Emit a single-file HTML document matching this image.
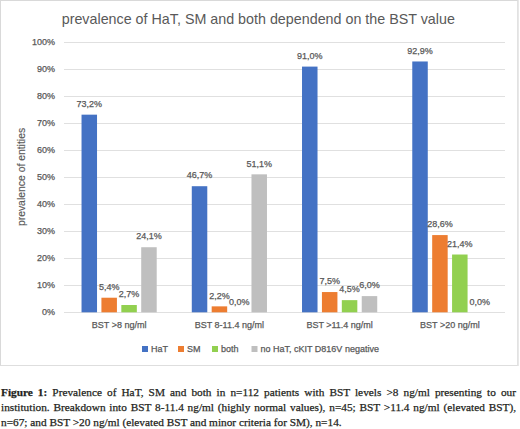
<!DOCTYPE html>
<html><head><meta charset="utf-8"><style>
html,body{margin:0;padding:0;background:#fff;}
body{width:520px;height:429px;overflow:hidden;position:relative;}
.chart{position:absolute;left:0;top:0;width:516px;height:364px;border:1px solid #D9D9D9;border-bottom-color:#DEDEDE;border-right-color:#E2E2E2;}
.chart:after{content:"";position:absolute;right:-2px;top:-1px;width:1px;height:366px;background:#E8E8E8;}
svg{position:absolute;left:0;top:0;}
svg text{font-family:"Liberation Sans",sans-serif;fill:#595959;stroke:#595959;stroke-width:0.25px;}
.t{font-size:9px;}
.title{font-size:14.3px;stroke:none;}
.ax{font-size:10.4px;stroke-width:0.15px;}
.cap{position:absolute;left:1px;top:385.2px;width:515px;font-family:"Liberation Serif",serif;font-size:11.3px;line-height:14.85px;color:#231f20;-webkit-text-stroke:0.25px #231f20;white-space:nowrap;}
.j{text-align:justify;text-align-last:justify;white-space:normal;}
.cap b{font-weight:bold;}
</style></head><body>
<div class="chart"></div>
<svg width="520" height="429" viewBox="0 0 520 429">
<line x1="64" x2="505" y1="312.5" y2="312.5" stroke="#E0E0E0" stroke-width="1.1"/>
<text x="55" y="315.2" text-anchor="end" class="t">0%</text>
<line x1="64" x2="505" y1="285.5" y2="285.5" stroke="#E0E0E0" stroke-width="1.1"/>
<text x="55" y="288.2" text-anchor="end" class="t">10%</text>
<line x1="64" x2="505" y1="258.5" y2="258.5" stroke="#E0E0E0" stroke-width="1.1"/>
<text x="55" y="261.2" text-anchor="end" class="t">20%</text>
<line x1="64" x2="505" y1="231.5" y2="231.5" stroke="#E0E0E0" stroke-width="1.1"/>
<text x="55" y="234.2" text-anchor="end" class="t">30%</text>
<line x1="64" x2="505" y1="204.5" y2="204.5" stroke="#E0E0E0" stroke-width="1.1"/>
<text x="55" y="207.2" text-anchor="end" class="t">40%</text>
<line x1="64" x2="505" y1="177.5" y2="177.5" stroke="#E0E0E0" stroke-width="1.1"/>
<text x="55" y="180.2" text-anchor="end" class="t">50%</text>
<line x1="64" x2="505" y1="150.5" y2="150.5" stroke="#E0E0E0" stroke-width="1.1"/>
<text x="55" y="153.2" text-anchor="end" class="t">60%</text>
<line x1="64" x2="505" y1="123.5" y2="123.5" stroke="#E0E0E0" stroke-width="1.1"/>
<text x="55" y="126.2" text-anchor="end" class="t">70%</text>
<line x1="64" x2="505" y1="96.5" y2="96.5" stroke="#E0E0E0" stroke-width="1.1"/>
<text x="55" y="99.2" text-anchor="end" class="t">80%</text>
<line x1="64" x2="505" y1="69.5" y2="69.5" stroke="#E0E0E0" stroke-width="1.1"/>
<text x="55" y="72.2" text-anchor="end" class="t">90%</text>
<line x1="64" x2="505" y1="42.5" y2="42.5" stroke="#E0E0E0" stroke-width="1.1"/>
<text x="55" y="45.2" text-anchor="end" class="t">100%</text>
<rect x="81.53" y="114.66" width="15.5" height="197.64" fill="#4472C4"/>
<text x="89.28" y="106.86" text-anchor="middle" class="t">73,2%</text>
<rect x="101.42" y="297.72" width="15.5" height="14.58" fill="#ED7D31"/>
<text x="109.17" y="289.92" text-anchor="middle" class="t">5,4%</text>
<rect x="121.33" y="305.01" width="15.5" height="7.29" fill="#92D050"/>
<text x="129.07" y="297.21" text-anchor="middle" class="t">2,7%</text>
<rect x="141.22" y="247.23" width="15.5" height="65.07" fill="#BFBFBF"/>
<text x="148.97" y="239.43" text-anchor="middle" class="t">24,1%</text>
<text x="119.12" y="328.3" text-anchor="middle" class="t">BST &gt;8 ng/ml</text>
<rect x="191.78" y="186.21" width="15.5" height="126.09" fill="#4472C4"/>
<text x="199.53" y="178.41" text-anchor="middle" class="t">46,7%</text>
<rect x="211.68" y="306.36" width="15.5" height="5.94" fill="#ED7D31"/>
<text x="219.43" y="298.56" text-anchor="middle" class="t">2,2%</text>
<text x="239.32" y="304.50" text-anchor="middle" class="t">0,0%</text>
<rect x="251.47" y="174.33" width="15.5" height="137.97" fill="#BFBFBF"/>
<text x="259.23" y="166.53" text-anchor="middle" class="t">51,1%</text>
<text x="229.38" y="328.3" text-anchor="middle" class="t">BST 8-11.4 ng/ml</text>
<rect x="302.02" y="66.60" width="15.5" height="245.70" fill="#4472C4"/>
<text x="309.77" y="58.80" text-anchor="middle" class="t">91,0%</text>
<rect x="321.93" y="292.05" width="15.5" height="20.25" fill="#ED7D31"/>
<text x="329.68" y="284.25" text-anchor="middle" class="t">7,5%</text>
<rect x="341.82" y="300.15" width="15.5" height="12.15" fill="#92D050"/>
<text x="349.57" y="292.35" text-anchor="middle" class="t">4,5%</text>
<rect x="361.73" y="296.10" width="15.5" height="16.20" fill="#BFBFBF"/>
<text x="369.48" y="288.30" text-anchor="middle" class="t">6,0%</text>
<text x="339.62" y="328.3" text-anchor="middle" class="t">BST &gt;11.4 ng/ml</text>
<rect x="412.27" y="61.47" width="15.5" height="250.83" fill="#4472C4"/>
<text x="420.02" y="53.67" text-anchor="middle" class="t">92,9%</text>
<rect x="432.18" y="235.08" width="15.5" height="77.22" fill="#ED7D31"/>
<text x="439.93" y="227.28" text-anchor="middle" class="t">28,6%</text>
<rect x="452.07" y="254.52" width="15.5" height="57.78" fill="#92D050"/>
<text x="459.82" y="246.72" text-anchor="middle" class="t">21,4%</text>
<text x="479.73" y="304.50" text-anchor="middle" class="t">0,0%</text>
<text x="449.88" y="328.3" text-anchor="middle" class="t">BST &gt;20 ng/ml</text>
<rect x="142" y="346" width="6" height="6" fill="#4472C4"/>
<text x="151" y="351.8" class="t">HaT</text>
<rect x="178" y="346" width="6" height="6" fill="#ED7D31"/>
<text x="187" y="351.8" class="t">SM</text>
<rect x="212" y="346" width="6" height="6" fill="#92D050"/>
<text x="221" y="351.8" class="t">both</text>
<rect x="251.5" y="346" width="6" height="6" fill="#BFBFBF"/>
<text x="260.5" y="351.8" class="t">no HaT, cKIT D816V negative</text>
<text x="258.3" y="23.5" text-anchor="middle" class="title">prevalence of HaT, SM and both dependend on the BST value</text>
<text transform="translate(25.4,177) rotate(-90)" text-anchor="middle" class="ax">prevalence of entities</text>
</svg>
<div class="cap"><div class="j"><b>Figure 1:</b> Prevalence of HaT, SM and both in n=112 patients with BST levels &gt;8 ng/ml presenting to our</div><div class="j">institution. Breakdown into BST 8-11.4 ng/ml (highly normal values), n=45; BST &gt;11.4 ng/ml (elevated BST),</div><div>n=67; and BST &gt;20 ng/ml (elevated BST and minor criteria for SM), n=14.</div></div>
</body></html>
